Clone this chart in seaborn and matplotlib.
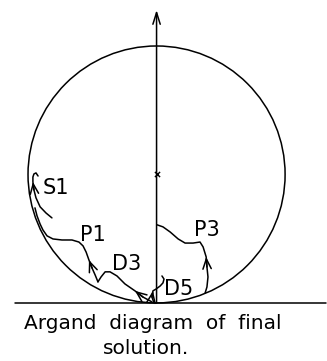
import numpy as np
import pandas as pd
import matplotlib
matplotlib.use("Agg")
import matplotlib.pyplot as plt
from matplotlib.patches import Circle
import seaborn as sns

# Partial-wave trajectories in the complex plane (Re T, Im T)
s1_re = [-0.407, -0.430, -0.453, -0.469, -0.477, -0.481, -0.481, -0.477, -0.469, -0.461]
s1_im = [0.331, 0.350, 0.374, 0.409, 0.440, 0.471, 0.490, 0.502, 0.506, 0.494]

p1_re = [-0.228, -0.239, -0.251, -0.263, -0.274, -0.286, -0.302, -0.329, -0.368,
         -0.403, -0.426, -0.442, -0.453, -0.465, -0.473]
p1_im = [0.082, 0.109, 0.136, 0.167, 0.198, 0.222, 0.237, 0.245, 0.245,
         0.249, 0.261, 0.284, 0.307, 0.339, 0.370]

d3_re = [-0.018, -0.053, -0.084, -0.123, -0.154, -0.181, -0.200, -0.216, -0.228]
d3_im = [0.004, 0.023, 0.047, 0.074, 0.105, 0.121, 0.121, 0.101, 0.082]

d5_re = [-0.010, -0.018, -0.014, -0.002, 0.014, 0.025, 0.029, 0.021]
d5_im = [0.000, 0.023, 0.047, 0.054, 0.066, 0.078, 0.093, 0.105]

p3_re = [0.189, 0.196, 0.200, 0.196, 0.193, 0.181, 0.169, 0.142, 0.111, 0.084, 0.053, 0.025, 0.002]
p3_im = [0.039, 0.062, 0.101, 0.140, 0.179, 0.218, 0.237, 0.233, 0.233, 0.249, 0.276, 0.296, 0.304]

wave_names = ["S1", "P1", "D3", "D5", "P3"]
label_re = [-0.391, -0.249, -0.117, 0.086, 0.195]
label_im = [0.446, 0.263, 0.152, 0.055, 0.282]
arrow_index = [5, 3, 2, 2, 4]

waves = {
    "S1": (s1_re, s1_im),
    "P1": (p1_re, p1_im),
    "D3": (d3_re, d3_im),
    "D5": (d5_re, d5_im),
    "P3": (p3_re, p3_im),
}

sns.set_theme(style="white")
plt.rcParams["font.family"] = ["DejaVu Sans"]

fig = plt.figure(figsize=(3.27, 3.61), dpi=100)
ax = fig.add_axes([0, 0, 1, 1])
ax.set_xlim(-0.609, 0.663)
ax.set_ylim(-0.226, 1.179)

ink = "black"
lw = 1.1

# Unitarity circle |T - i/2| = 1/2
ax.add_patch(Circle((0.0, 0.5), 0.5, fill=False, color=ink, lw=lw))

# Axes of the Argand plane
ax.plot([-0.551, 0.660], [0.0, 0.0], color=ink, lw=lw)
ax.annotate("", xy=(0.0, 1.140), xytext=(0.0, 0.0),
            arrowprops=dict(arrowstyle="->,head_length=0.7,head_width=0.22",
                            color=ink, lw=lw, shrinkA=0, shrinkB=0))
ax.scatter([0.0], [0.5], marker="x", s=14, color=ink, linewidths=1.0, zorder=3)

# Trajectories with direction arrows
for name, k, lx, ly in zip(wave_names, arrow_index, label_re, label_im):
    re, im = waves[name]
    df = pd.DataFrame({"re": re, "im": im})
    sns.lineplot(data=df, x="re", y="im", sort=False, estimator=None,
                 color=ink, lw=lw, ax=ax)
    ax.annotate("", xy=(re[k], im[k]), xytext=(re[k - 1], im[k - 1]),
                arrowprops=dict(arrowstyle="->,head_length=0.6,head_width=0.25",
                                color=ink, lw=lw, shrinkA=0, shrinkB=0))
    ax.text(lx, ly, name, fontsize=15, ha="center", va="center", color=ink)

ax.axis("off")

ax.text(-0.014, -0.101, "Argand  diagram  of  final", fontsize=14.5,
        ha="center", va="baseline", color=ink)
ax.text(-0.041, -0.198, "solution.", fontsize=14.5,
        ha="center", va="baseline", color=ink)

fig.savefig("out.png", dpi=100)
